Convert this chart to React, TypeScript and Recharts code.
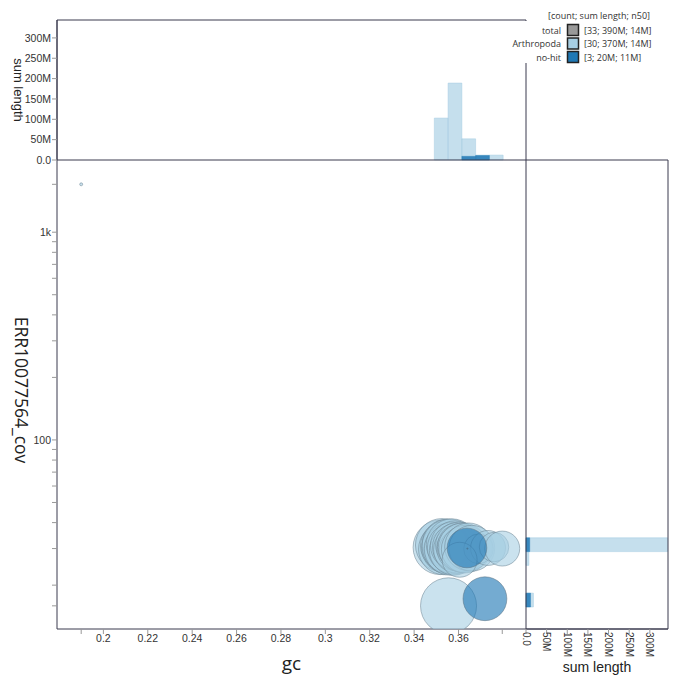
import React from 'react';
import { Label, ReferenceArea, Scatter, ScatterChart, XAxis, YAxis, ZAxis } from 'recharts';

// contigs per taxon: gc, coverage, length (Mb)
const arthGc = [
  0.3518, 0.3525, 0.3535, 0.354, 0.3545, 0.3548, 0.355, 0.3558, 0.3565, 0.357, 0.3575, 0.358, 0.3585, 0.359, 0.3595,
  0.36, 0.3605, 0.3608, 0.3612, 0.362, 0.363, 0.3645, 0.366, 0.369, 0.3733, 0.376, 0.3797, 0.3555, 0.3605, 0.19,
];
const arthCov = [
  30.4, 31.2, 29.8, 30.9, 30.1, 31.6, 29.5, 30.8, 29.9, 31.4, 30.2, 29.4, 31.0, 30.5, 29.7, 31.2, 30.0, 30.7, 29.6,
  30.3, 29.8, 30.6, 30.1, 29.9, 30.2, 30.5, 30.0, 15.9, 26.5, 1700,
];
const arthLen = [17, 16, 15, 14, 14, 14, 13, 17, 16, 15, 15, 14, 14, 13, 13, 12, 12, 12, 11, 14, 13, 13, 12, 5, 7, 5, 7, 18, 7, 0.05];

const nohitGc = [0.3638, 0.3719, 0.364];
const nohitCov = [30.2, 17.2, 30.0];
const nohitLen = [9, 11, 0.01];

// histograms (Mb)
const gcBinEdges = [0.3491, 0.3553, 0.3615, 0.3677, 0.3739, 0.3801];
const gcHistArth = [103, 189, 52, 12, 12];
const gcHistNohit = [0, 0, 9, 11, 0];
const covBinLo = [29.0, 24.9, 15.7];
const covBinHi = [33.8, 29.0, 18.3];
const covHistArth = [343, 7, 18];
const covHistNohit = [9, 0, 11];

const gcTicks = [0.19, 0.2, 0.22, 0.24, 0.26, 0.28, 0.3, 0.32, 0.34, 0.36, 0.3797];
const covTicks = [15.9, 20, 30, 40, 50, 60, 70, 80, 90, 100, 200, 300, 400, 500, 600, 700, 800, 900, 1000, 1700];
const sumTicks = [0, 50, 100, 150, 200, 250, 300];

const legendNames = ['total', 'Arthropoda', 'no-hit'];
const legendCounts = [33, 30, 3];
const legendSums = [390, 370, 20];
const legendN50 = [14, 14, 11];
const legendColors = ['#999999', '#a6cee3', '#1f78b4'];

const GC_DOMAIN: [number, number] = [0.1791, 0.3904];
const COV_DOMAIN: [number, number] = [12.3, 2226];
const SUM_MAX = 344;

const AXIS = '#3a3a4f';
const TICK = '#999';
const TEXT = '#333';
const FONT_TICK = "'Liberation Sans', Arial, sans-serif";
const FONT_TITLE = "'Open Sans', sans-serif";
const LIGHT = '#a6cee3';
const DARK = '#1f78b4';

const arthData = arthGc.map((gc, i) => ({ gc, cov: arthCov[i], len: arthLen[i] }));
const nohitData = nohitGc.map((gc, i) => ({ gc, cov: nohitCov[i], len: nohitLen[i] }));

const tickStyle = { fontSize: 10.5, fill: TEXT, fontFamily: FONT_TICK };

const fmtGc = (v: number) => (v > 0.199 && v < 0.361 ? String(Number(v.toFixed(2))) : '');
const fmtCov = (v: number) => (v === 100 ? '100' : v === 1000 ? '1k' : '');
const fmtSum = (v: number) => (v === 0 ? '0.0' : `${v}M`);

function RotatedSumTick({ x, y, payload }: any) {
  const ty = y - 2;
  return (
    <text
      x={x}
      y={ty}
      transform={`rotate(90, ${x}, ${ty})`}
      textAnchor="start"
      dominantBaseline="central"
      fontSize={10}
      fontFamily={FONT_TICK}
      fill={TEXT}
    >
      {fmtSum(payload.value)}
    </text>
  );
}

function title(text: string, x: number, y: number, size: number, rotate: boolean, font = FONT_TITLE) {
  return () => (
    <text
      x={x}
      y={y}
      transform={rotate ? `rotate(90, ${x}, ${y})` : undefined}
      textAnchor="middle"
      dominantBaseline={rotate ? 'central' : 'auto'}
      fontSize={size}
      fontFamily={font}
      fill="#222"
    >
      {text}
    </text>
  );
}

function Legend() {
  const rowY = [30, 43.5, 57];
  return (
    <svg width={680} height={70} style={{ position: 'absolute', left: 0, top: 0, pointerEvents: 'none' }}>
      <rect x={505} y={21} width={175} height={42} fill="#fff" />
      <text x={650} y={15} textAnchor="end" dominantBaseline="central" fontSize={9} fontFamily={FONT_TITLE} fill={TEXT}>
        [count; sum length; n50]
      </text>
      {legendNames.map((name, i) => (
        <g key={name}>
          <text x={561} y={rowY[i]} textAnchor="end" dominantBaseline="central" fontSize={9} fontFamily={FONT_TITLE} fill={TEXT}>
            {name}
          </text>
          <rect x={567.5} y={rowY[i] - 5.5} width={11} height={11} fill={legendColors[i]} stroke="#222" strokeWidth={1.5} />
          <text x={584} y={rowY[i]} dominantBaseline="central" fontSize={9} fontFamily={FONT_TITLE} fill={TEXT}>
            {`[${legendCounts[i]}; ${legendSums[i]}M; ${legendN50[i]}M]`}
          </text>
        </g>
      ))}
    </svg>
  );
}

export default function App() {
  return (
    <div style={{ position: 'absolute', left: 0, top: 0, width: 680, height: 687, background: '#fff' }}>
      <div style={{ position: 'absolute', left: 0, top: 0 }}>
        <ScatterChart width={680} height={687} margin={{ top: 160, right: 154, bottom: 28, left: 7 }}>
          <XAxis
            type="number"
            dataKey="gc"
            domain={GC_DOMAIN}
            allowDataOverflow
            ticks={gcTicks}
            interval={0}
            tickFormatter={fmtGc}
            height={30}
            tickSize={5}
            tickMargin={1}
            stroke={AXIS}
            tickLine={{ stroke: TICK }}
            tick={tickStyle}
          >
            <Label content={title('gc', 291.5, 670, 19, false)} />
          </XAxis>
          <YAxis
            type="number"
            dataKey="cov"
            scale="log"
            domain={COV_DOMAIN}
            allowDataOverflow
            ticks={covTicks}
            interval={0}
            tickFormatter={fmtCov}
            width={50}
            tickSize={5}
            tickMargin={1}
            stroke={AXIS}
            tickLine={{ stroke: TICK }}
            tick={tickStyle}
          >
            <Label content={title('ERR10077564_cov', 22, 390, 17.5, true)} />
          </YAxis>
          <ZAxis type="number" dataKey="len" domain={[0, 20]} range={[0, 2740]} />
          <Scatter
            data={arthData}
            fill={LIGHT}
            fillOpacity={0.6}
            stroke="#6f8796"
            strokeOpacity={0.55}
            strokeWidth={1}
            isAnimationActive={false}
          />
          <Scatter
            data={nohitData}
            fill={DARK}
            fillOpacity={0.62}
            stroke="#5a7080"
            strokeOpacity={0.5}
            strokeWidth={1}
            isAnimationActive={false}
          />
        </ScatterChart>
      </div>

      <div style={{ position: 'absolute', left: 0, top: 0 }}>
        <ScatterChart width={680} height={170} margin={{ top: 20, right: 154, bottom: 10, left: 7 }}>
          <XAxis
            type="number"
            dataKey="x"
            domain={GC_DOMAIN}
            allowDataOverflow
            ticks={gcTicks}
            interval={0}
            tickFormatter={() => ''}
            height={0}
            tickSize={5}
            stroke={AXIS}
            tickLine={{ stroke: TICK }}
          />
          <YAxis
            type="number"
            dataKey="y"
            domain={[0, SUM_MAX]}
            allowDataOverflow
            ticks={sumTicks}
            interval={0}
            tickFormatter={fmtSum}
            width={50}
            tickSize={5}
            tickMargin={1}
            stroke={AXIS}
            tickLine={{ stroke: TICK }}
            tick={tickStyle}
          >
            <Label content={title('sum length', 18, 90, 13, true, FONT_TICK)} />
          </YAxis>
          {gcHistArth.map((v, i) => (
            <ReferenceArea
              key={`a${i}`}
              x1={gcBinEdges[i]}
              x2={gcBinEdges[i + 1]}
              y1={0}
              y2={v}
              fill={LIGHT}
              fillOpacity={0.65}
              stroke={LIGHT}
              strokeOpacity={0.5}
            />
          ))}
          {gcHistNohit.map((v, i) =>
            v > 0 ? (
              <ReferenceArea
                key={`n${i}`}
                x1={gcBinEdges[i]}
                x2={gcBinEdges[i + 1]}
                y1={0}
                y2={v}
                fill={DARK}
                fillOpacity={0.85}
                stroke={DARK}
                strokeOpacity={0.4}
              />
            ) : null
          )}
          <ReferenceArea x1={GC_DOMAIN[0]} x2={GC_DOMAIN[1]} y1={0} y2={SUM_MAX} fill="none" stroke={AXIS} strokeWidth={1} />
        </ScatterChart>
      </div>

      <div style={{ position: 'absolute', left: 480, top: 150 }}>
        <ScatterChart width={200} height={537} margin={{ top: 10, right: 12, bottom: 28, left: 46 }}>
          <XAxis
            type="number"
            dataKey="x"
            domain={[0, SUM_MAX]}
            allowDataOverflow
            ticks={sumTicks}
            interval={0}
            height={30}
            tickSize={5}
            tickMargin={0}
            stroke={AXIS}
            tickLine={{ stroke: TICK }}
            tick={<RotatedSumTick />}
          >
            <Label content={title('sum length', 117, 522, 14, false, FONT_TICK)} />
          </XAxis>
          <YAxis
            type="number"
            dataKey="y"
            scale="log"
            domain={COV_DOMAIN}
            allowDataOverflow
            ticks={covTicks}
            interval={0}
            tickFormatter={() => ''}
            width={0}
            tickSize={5}
            stroke={AXIS}
            tickLine={{ stroke: TICK }}
          />
          {covHistArth.map((v, i) => (
            <ReferenceArea
              key={`a${i}`}
              x1={0}
              x2={v}
              y1={covBinLo[i]}
              y2={covBinHi[i]}
              fill={LIGHT}
              fillOpacity={0.65}
              stroke={LIGHT}
              strokeOpacity={0.5}
            />
          ))}
          {covHistNohit.map((v, i) =>
            v > 0 ? (
              <ReferenceArea
                key={`n${i}`}
                x1={0}
                x2={v}
                y1={covBinLo[i]}
                y2={covBinHi[i]}
                fill={DARK}
                fillOpacity={0.85}
                stroke={DARK}
                strokeOpacity={0.4}
              />
            ) : null
          )}
          <ReferenceArea x1={0} x2={SUM_MAX} y1={COV_DOMAIN[0]} y2={COV_DOMAIN[1]} fill="none" stroke={AXIS} strokeWidth={1} />
        </ScatterChart>
      </div>

      <Legend />
    </div>
  );
}
